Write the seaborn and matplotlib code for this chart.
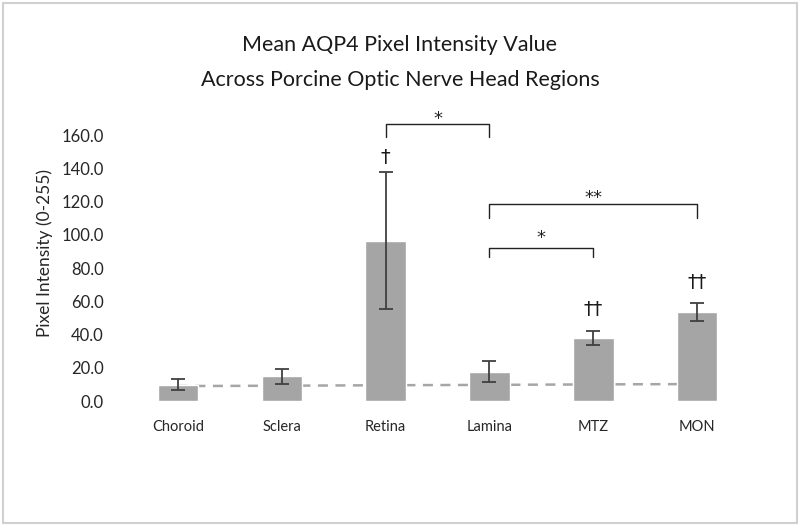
import matplotlib
matplotlib.use('Agg')
import matplotlib.pyplot as plt
import seaborn as sns
import numpy as np
import pandas as pd
from matplotlib.patches import Rectangle

regions = ['Choroid', 'Sclera', 'Retina', 'Lamina', 'MTZ', 'MON']
means = [9.9, 14.8, 96.4, 17.7, 38.0, 53.5]
errs = [3.4, 4.6, 41.2, 6.1, 4.3, 5.2]
baseline = [9.0, 9.2, 9.5, 9.7, 10.0, 10.2]  # dashed reference series
daggers = ['', '', '\u2020', '', '\u2020\u2020', '\u2020\u2020']
dagger_y = [0, 0, 146.8, 0, 55.3, 71.6]
# significance brackets: (left idx, right idx, top y, leg y, star y, label)
brackets = [(2, 3, 166.6, 158.8, 173.0, '*'),
            (3, 5, 118.5, 110.0, 125.5, '**'),
            (3, 4, 92.0, 86.6, 101.5, '*')]

sns.set_style('white')
plt.rcParams['font.family'] = ['Lato', 'DejaVu Sans']

df = pd.DataFrame({'region': regions, 'mean': means})
fig = plt.figure(figsize=(8, 5.28), dpi=100)
ax = fig.add_axes([0.1575, 0.2405, 0.7788, 0.5037])

ax.plot(range(len(regions)), baseline, color='#a6a6a6', lw=1.8, ls=(0, (4, 3)), zorder=1)
sns.barplot(data=df, x='region', y='mean', color='#a5a5a5', saturation=1, width=0.39, ax=ax, zorder=2)
ax.errorbar(range(len(regions)), means, yerr=errs, fmt='none', ecolor='#404040', elinewidth=1.3, capsize=5, capthick=1.3, zorder=3)

for i, (d, y) in enumerate(zip(daggers, dagger_y)):
    if d:
        ax.text(i, y, d, ha='center', va='center', fontsize=14, color='#1a1a1a',
                family=['DejaVu Sans'], clip_on=False)

for l, r, top, leg, sy, lab in brackets:
    ax.plot([l, l, r, r], [leg, top, top, leg], color='#222222', lw=1.0, clip_on=False, zorder=4)
    ax.text((l + r) / 2, sy - 3.5, lab, ha='center', va='center', fontsize=13, color='#222222',
            family=['DejaVu Sans'], clip_on=False)

ax.set_xlim(-0.5, 5.5)
ax.set_ylim(0, 160)
ax.set_yticks(np.arange(0, 161, 20))
ax.set_yticklabels([f'{v:.1f}' for v in np.arange(0, 161, 20)])
ax.tick_params(axis='both', length=0, colors='#262626')
ax.tick_params(axis='x', pad=14, labelsize=10.5)
ax.tick_params(axis='y', pad=16, labelsize=12)
ax.set_xlabel('')
ax.set_ylabel('')
sns.despine(ax=ax, left=True, bottom=True)

fig.text(0.056, 0.52, 'Pixel Intensity (0-255)', rotation=90, ha='center', va='center', fontsize=12.5, color='#262626')
fig.text(0.5, 0.915, 'Mean AQP4 Pixel Intensity Value', ha='center', va='center', fontsize=15.5, color='#1a1a1a')
fig.text(0.5, 0.849, 'Across Porcine Optic Nerve Head Regions', ha='center', va='center', fontsize=15.5, color='#1a1a1a')

fig.patches.append(Rectangle((3 / 800, 5 / 528), 794 / 800, 520 / 528, transform=fig.transFigure,
                             fill=False, edgecolor='#d0d0d0', lw=1.5))

fig.savefig('out.png', dpi=100)
